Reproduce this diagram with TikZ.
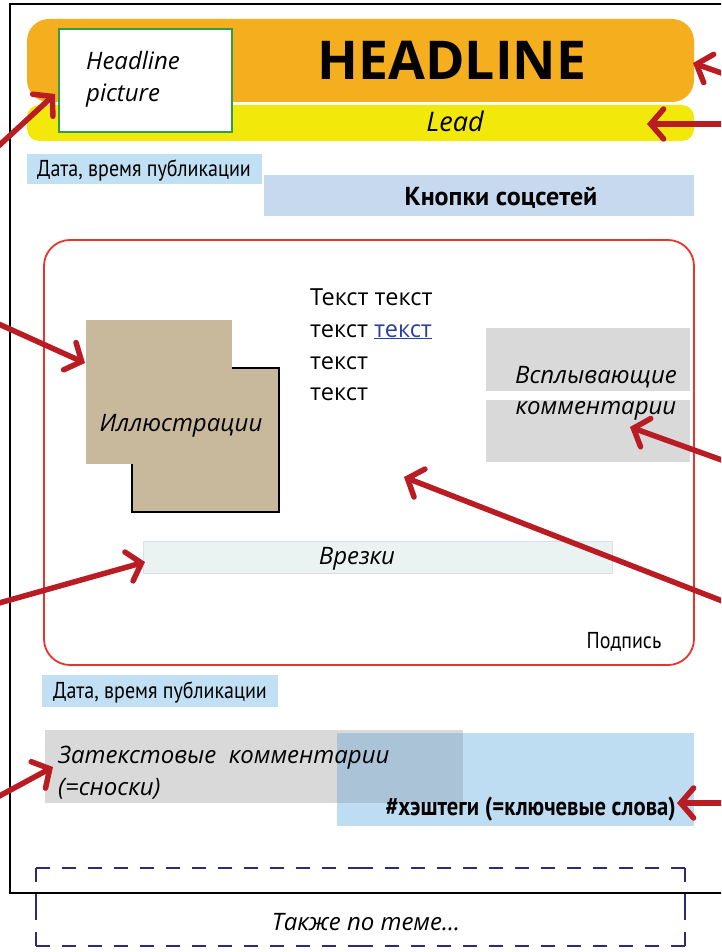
\documentclass[tikz,border=0pt]{standalone}
\usepackage{fontspec}
\setmainfont{Open Sans}
\newfontfamily\cond[FakeStretch=0.87]{PT Sans}
\newfontfamily\ptsans{PT Sans}
\usetikzlibrary{arrows.meta}
\definecolor{orangeH}{HTML}{F5AE1E}
\definecolor{yellowL}{HTML}{F2E90B}
\definecolor{greenB}{HTML}{2E9E4A}
\definecolor{blueD}{HTML}{C2E0F4}
\definecolor{blueK}{HTML}{C6D9EE}
\definecolor{redF}{HTML}{E8342C}
\definecolor{tanI}{HTML}{C8B89C}
\definecolor{grayC}{HTML}{D9D9D9}
\definecolor{vrezF}{HTML}{EAF2F2}
\definecolor{vrezB}{HTML}{DCDCEE}
\definecolor{blueH}{HTML}{BEDDF2}
\definecolor{overlapC}{HTML}{AAC3D7}
\definecolor{linkB}{HTML}{2B3F9E}
\definecolor{arrowR}{HTML}{B91C22}
\definecolor{navyD}{HTML}{2E2A7A}
\tikzset{
  ptr/.style={draw=arrowR, line width=5.5pt, line cap=round,
    -{Straight Barb[length=13pt,width=30pt,line cap=round]}},
  itxt/.style={font=\itshape\fontsize{24}{28}\selectfont, inner sep=0pt, anchor=base},
  ctxt/.style={font=\cond\fontsize{23}{26}\selectfont, inner sep=0pt, anchor=base},
  btxt/.style={font=\ptsans\bfseries\fontsize{26}{28}\selectfont, inner sep=0pt, anchor=base},
  body/.style={font=\fontsize{23.5}{28}\selectfont, inner sep=0pt, anchor=base west},
  dashside/.style={draw=navyD, line width=2.2pt, dash pattern=on 14pt off 12pt},
}
\begin{document}
\begin{tikzpicture}[x=1pt,y=-1pt]
\useasboundingbox (0,0) rectangle (721,952);
\clip (0,0) rectangle (721,952);
\fill[white] (0,0) rectangle (721,952);
% outer frame
\draw[line width=2pt, black] (10,4) rectangle (740,893);
% header
\fill[yellowL, rounded corners=12pt] (27,105) rectangle (694,141);
\fill[orangeH, rounded corners=22pt] (27,19) rectangle (694,102);
\node[draw=greenB, line width=2pt, fill=white, minimum width=173pt, minimum height=103pt, anchor=north west, inner sep=0pt] (hpic) at (58,28) {};
\node[itxt, anchor=base west] (hpictxt1) at (86,70) {Headline};
\node[itxt, anchor=base west] (hpictxt2) at (86,102) {picture};
\node[font=\bfseries\fontsize{53.5}{58}\selectfont, inner sep=0pt, anchor=base] (headline) at (452,80) {HEADLINE};
\node[itxt, font=\itshape\fontsize{27}{30}\selectfont] (lead) at (455,132) {Lead};
% date 1
\node[fill=blueD, minimum width=235pt, minimum height=30pt, anchor=north west, inner sep=0pt] (date1) at (27,154) {};
\node[ctxt] (date1t) at (144,177) {Дата, время публикации};
% social buttons
\node[fill=blueK, minimum width=430pt, minimum height=41pt, anchor=north west, inner sep=0pt] (social) at (264,175) {};
\node[btxt] (socialt) at (501,205) {Кнопки соцсетей};
% main red frame
\draw[redF, line width=1.8pt, rounded corners=26pt] (44,240) rectangle (694,665);
% illustrations
\draw[fill=tanI, draw=black, line width=1.5pt] (132,368) rectangle (279,512);
\fill[tanI] (86,320) rectangle (232,464);
\node[itxt] (illt) at (181,431) {Иллюстрации};
% body text
\node[body] (t1) at (310,305) {Текст текст};
\node[body] (t2) at (310,337) {текст \textcolor{linkB}{\underline{текст}}};
\node[body] (t3) at (310,369) {текст};
\node[body] (t4) at (310,400) {текст};
% popup comments
\fill[grayC] (486,328) rectangle (690,391);
\fill[grayC] (486,400) rectangle (690,462);
\node[itxt] (popt1) at (596,383) {Всплывающие};
\node[itxt] (popt2) at (596,414) {комментарии};
% vrezki
\node[draw=vrezB, fill=vrezF, line width=1pt, minimum width=469pt, minimum height=32pt, anchor=north west, inner sep=0pt] (vrez) at (143,541) {};
\node[itxt] (vrezt) at (357,564) {Врезки};
\node[ctxt] (sign) at (624,648) {Подпись};
% date 2
\node[fill=blueD, minimum width=236pt, minimum height=32pt, anchor=north west, inner sep=0pt] (date2) at (42,675) {};
\node[ctxt] (date2t) at (160,698) {Дата, время публикации};
% footnotes + hashtags
\fill[grayC] (45,730) rectangle (463,803);
\fill[blueH] (337,733) rectangle (694,826);
\fill[overlapC] (337,733) rectangle (463,803);
\node[itxt, anchor=base west] (fn1) at (58,763) {Затекстовые\ \ комментарии};
\node[itxt, anchor=base west] (fn2) at (58,795) {(=сноски)};
\node[font=\cond\bfseries\fontsize{26}{28}\selectfont, inner sep=0pt, anchor=base east] (hash) at (676,815) {\#хэштеги (=ключевые слова)};
% dashed "also on topic"
\coordinate (dTL) at (36,868);
\coordinate (dTR) at (685,868);
\coordinate (dBL) at (36,946);
\coordinate (dBR) at (685,946);
\coordinate (dTM) at (360.5,868);
\coordinate (dBM) at (360.5,946);
\coordinate (dLM) at (36,907);
\coordinate (dRM) at (685,907);
\draw[dashside] (dTL) -- (dTM); \draw[dashside] (dTR) -- (dTM);
\draw[dashside] (dBL) -- (dBM); \draw[dashside] (dBR) -- (dBM);
\draw[dashside] (dTL) -- (dLM); \draw[dashside] (dBL) -- (dLM);
\draw[dashside] (dTR) -- (dRM); \draw[dashside] (dBR) -- (dRM);
\node[itxt] (also) at (366,930) {Также по теме...};
% arrows
\coordinate (a1s) at (-8,152);  \coordinate (a1e) at (55,94);
\coordinate (a2s) at (730,76);  \coordinate (a2e) at (693,63);
\coordinate (a3s) at (730,124); \coordinate (a3e) at (647,124);
\coordinate (a4s) at (-8,321);  \coordinate (a4e) at (85,363);
\coordinate (a5s) at (730,463); \coordinate (a5e) at (630,427);
\coordinate (a6s) at (730,604); \coordinate (a6e) at (404,477);
\coordinate (a7s) at (-8,605);  \coordinate (a7e) at (145,562);
\coordinate (a8s) at (-8,800);  \coordinate (a8e) at (53,767);
\coordinate (a9s) at (730,803); \coordinate (a9e) at (677,803);
\draw[ptr] (a1s) -- (a1e);
\draw[ptr] (a2s) -- (a2e);
\draw[ptr] (a3s) -- (a3e);
\draw[ptr] (a4s) -- (a4e);
\draw[ptr] (a5s) -- (a5e);
\draw[ptr] (a6s) -- (a6e);
\draw[ptr] (a7s) -- (a7e);
\draw[ptr] (a8s) -- (a8e);
\draw[ptr] (a9s) -- (a9e);
\end{tikzpicture}
\end{document}
